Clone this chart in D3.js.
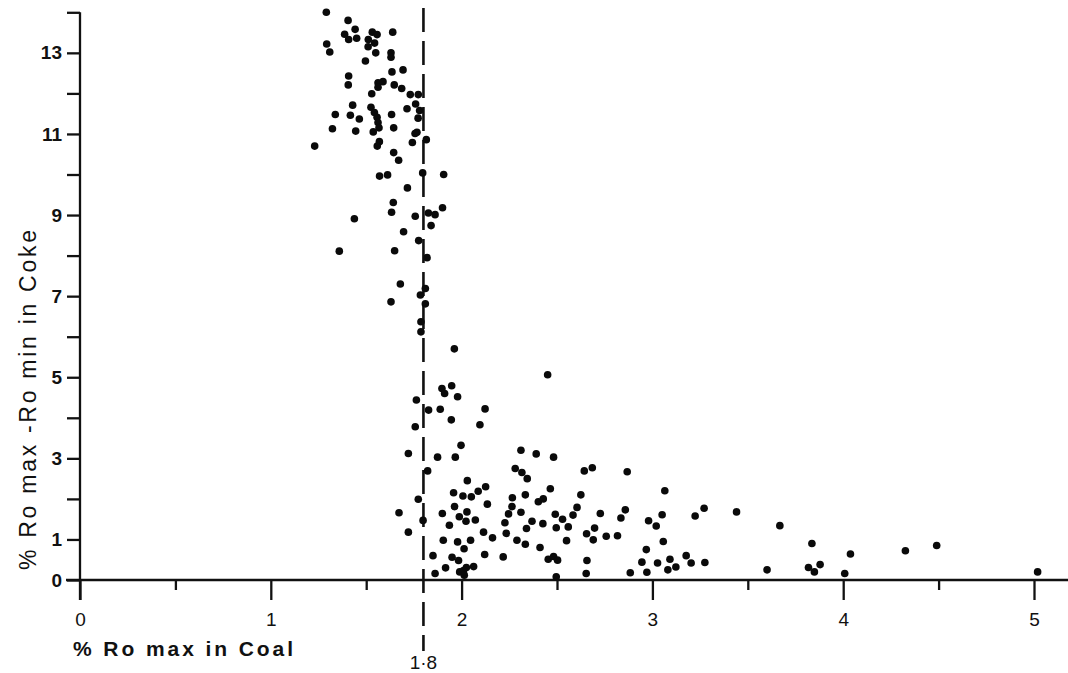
<!DOCTYPE html>
<html>
<head>
<meta charset="utf-8">
<script src="https://cdn.jsdelivr.net/npm/d3@7"></script>
<style>
  html, body { margin: 0; padding: 0; background: #fff; }
  svg { display: block; }
</style>
</head>
<body>
<svg id="chart" width="1068" height="673"></svg>
<script>
// % Ro max in Coal (x) and % Ro max - Ro min in Coke (y)
const coalRoMax = [
  1.291,1.405,1.442,1.387,1.408,1.450,1.532,1.557,1.511,1.544,1.510,1.639,1.293,1.309,1.550,1.630,1.630,1.496,1.693,1.635,
  1.408,1.406,1.562,1.588,1.562,1.647,1.686,1.529,1.731,1.773,1.429,1.525,1.714,1.759,1.780,1.338,1.417,1.464,1.543,1.557,
  1.562,1.633,1.772,1.323,1.445,1.537,1.567,1.644,1.766,1.756,1.815,1.742,1.569,1.558,1.230,1.644,1.670,1.796,1.906,1.570,
  1.612,1.716,
  1.642,1.633,1.438,1.757,1.826,1.861,1.900,1.840,1.696,1.775,1.359,1.649,1.819,1.679,1.810,1.784,1.630,1.810,1.787,1.787,
  1.962,
  2.451,1.948,1.897,1.911,1.979,1.763,1.827,1.888,2.123,1.946,2.096,1.757,1.997,1.721,1.874,1.967,1.822,2.311,2.391,2.482,
  2.281,2.316,2.344,2.030,2.465,2.126,2.087,1.958,2.007,2.051,1.773,2.266,2.334,2.402,2.428,2.135,1.963,1.672,1.899,1.988,
  2.028,2.023,2.072,1.798,2.264,2.246,2.311,2.491,1.936,2.369,2.426,2.227,2.496,2.340,1.721,2.115,2.234,2.162,1.904,1.979,
  2.047,2.290,2.334,2.013,2.411,1.850,2.121,2.218,1.950,1.984,2.454,2.482,2.503,1.916,2.063,2.025,2.010,1.990,2.014,1.861,
  2.496,
  2.643,2.685,2.868,2.625,2.605,2.584,2.529,2.559,2.727,2.858,2.835,2.697,2.655,2.550,2.690,2.758,2.817,3.065,3.051,2.980,
  3.020,3.057,3.224,3.271,3.441,3.668,2.657,2.653,2.968,2.945,2.971,2.884,3.027,3.092,3.081,3.123,3.177,3.203,3.275,3.601,
  3.836,3.818,3.849,3.879,4.008,4.038,4.326,4.490,5.019
];
const cokeRoRange = [
  14.00,13.80,13.58,13.46,13.33,13.36,13.51,13.45,13.33,13.24,13.15,13.51,13.22,13.02,13.00,13.00,12.89,12.80,12.58,12.53,
  12.43,12.21,12.26,12.29,12.15,12.21,12.12,11.99,11.97,11.97,11.71,11.66,11.62,11.74,11.58,11.48,11.46,11.37,11.53,11.41,
  11.28,11.48,11.39,11.13,11.07,11.05,11.15,11.15,11.04,11.01,10.86,10.79,10.81,10.70,10.70,10.54,10.35,10.04,10.00,9.96,
  9.99,9.67,
  9.31,9.07,8.91,8.97,9.05,9.01,9.18,8.74,8.59,8.37,8.11,8.12,7.95,7.30,7.19,7.03,6.86,6.81,6.37,6.12,
  5.70,
  5.06,4.79,4.72,4.60,4.52,4.44,4.19,4.21,4.22,3.95,3.83,3.78,3.32,3.12,3.03,3.03,2.69,3.20,3.11,3.03,
  2.75,2.65,2.50,2.45,2.25,2.30,2.19,2.15,2.07,2.05,1.99,2.03,2.10,1.93,2.00,1.87,1.81,1.66,1.64,1.56,
  1.68,1.45,1.48,1.47,1.81,1.63,1.67,1.62,1.35,1.45,1.39,1.41,1.29,1.27,1.18,1.18,1.15,1.04,0.98,0.94,
  0.98,0.98,0.88,0.77,0.80,0.60,0.63,0.57,0.56,0.48,0.51,0.58,0.49,0.30,0.33,0.31,0.23,0.20,0.12,0.16,
  0.08,
  2.69,2.77,2.67,2.10,1.79,1.60,1.50,1.31,1.64,1.73,1.53,1.28,1.14,0.97,0.99,1.08,1.09,2.20,1.61,1.46,
  1.33,0.95,1.58,1.77,1.68,1.34,0.48,0.16,0.75,0.44,0.19,0.18,0.42,0.51,0.25,0.32,0.60,0.42,0.43,0.25,
  0.90,0.31,0.20,0.38,0.16,0.64,0.72,0.85,0.20
];

const xMajorTicks = [0, 1, 2, 3, 4, 5];
const xMinorTicks = [0.5, 1.5, 2.5, 3.5, 4.5];
const yTicks = [0,1,2,3,4,5,6,7,8,9,10,11,12,13,14];
const yTickLabels = [0,1,3,5,7,9,11,13];
const thresholdX = 1.8;
const thresholdLabel = "1·8";
const xTitle = "% Ro max in Coal";
const yTitle = "% Ro max -Ro min in Coke";

const points = coalRoMax.map((v, i) => ({x: v, y: cokeRoRange[i]}));

const svg = d3.select("#chart");
svg.append("rect").attr("width", 1068).attr("height", 673).attr("fill", "#fff");

const x = d3.scaleLinear().domain([0, 5]).range([80, 1034]);
const y = d3.scaleLinear().domain([0, 14]).range([580, 12.3]);

const axisColor = "#111";
const font = "'Liberation Sans', Arial, Helvetica, sans-serif";

// X axis line (extends past the origin and to the right edge)
svg.append("line")
  .attr("x1", 66).attr("x2", 1068)
  .attr("y1", y(0)).attr("y2", y(0))
  .attr("stroke", axisColor).attr("stroke-width", 2.3);

// Y axis line
svg.append("line")
  .attr("x1", x(0)).attr("x2", x(0))
  .attr("y1", y(14)).attr("y2", 600)
  .attr("stroke", axisColor).attr("stroke-width", 2.3);

// X major ticks with labels
const gxMaj = svg.append("g")
  .attr("transform", `translate(0,${y(0)})`)
  .call(d3.axisBottom(x).tickValues(xMajorTicks).tickSize(20).tickPadding(13).tickFormat(d3.format("d")));
gxMaj.select(".domain").remove();
gxMaj.selectAll(".tick line").attr("stroke", axisColor).attr("stroke-width", 2.3);
gxMaj.selectAll(".tick text")
  .attr("fill", "#111")
  .style("font-family", font)
  .style("font-size", "19px");

// X minor ticks
const gxMin = svg.append("g")
  .attr("transform", `translate(0,${y(0)})`)
  .call(d3.axisBottom(x).tickValues(xMinorTicks).tickSize(10).tickFormat(""));
gxMin.select(".domain").remove();
gxMin.selectAll(".tick line").attr("stroke", axisColor).attr("stroke-width", 2.3);

// Y ticks
const gy = svg.append("g")
  .attr("transform", `translate(${x(0)},0)`)
  .call(d3.axisLeft(y).tickValues(yTicks).tickSize(13).tickPadding(5)
    .tickFormat(d => yTickLabels.includes(d) ? String(d) : ""));
gy.select(".domain").remove();
gy.selectAll(".tick line").attr("stroke", axisColor).attr("stroke-width", 2.3);
gy.selectAll(".tick text")
  .attr("fill", "#111")
  .style("font-family", font)
  .style("font-weight", "bold")
  .style("font-size", "19px");

// Dashed threshold line
svg.append("line")
  .attr("x1", x(thresholdX)).attr("x2", x(thresholdX))
  .attr("y1", 8).attr("y2", 651)
  .attr("stroke", "#111").attr("stroke-width", 2.6)
  .attr("stroke-dasharray", "24,9");

svg.append("text")
  .attr("x", x(thresholdX)).attr("y", 669)
  .attr("text-anchor", "middle")
  .attr("fill", "#111")
  .style("font-family", font)
  .style("font-size", "19px")
  .text(thresholdLabel);

// Points
svg.append("g")
  .selectAll("circle")
  .data(points)
  .join("circle")
  .attr("cx", d => x(d.x))
  .attr("cy", d => y(d.y))
  .attr("r", 3.8)
  .attr("fill", "#0a0a0a");

// Axis titles
svg.append("text")
  .attr("x", 73).attr("y", 656)
  .attr("fill", "#111")
  .attr("textLength", 220).attr("lengthAdjust", "spacing")
  .style("font-family", font)
  .style("font-weight", "bold")
  .style("font-size", "21px")
  .text(xTitle);

svg.append("text")
  .attr("transform", "translate(36,400) rotate(-90)")
  .attr("text-anchor", "middle")
  .attr("fill", "#111")
  .attr("textLength", 340).attr("lengthAdjust", "spacing")
  .style("font-family", font)
  .style("font-size", "23px")
  .text(yTitle);
</script>
</body>
</html>
